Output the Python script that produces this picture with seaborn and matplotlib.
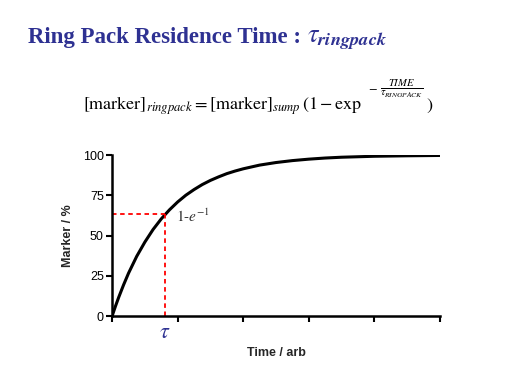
import matplotlib
matplotlib.use("Agg")
import matplotlib.pyplot as plt
import seaborn as sns
import pandas as pd

sns.set_style("white")
plt.rcParams['mathtext.fontset'] = 'stix'

# curve (time in arb units, marker in %)
time = [0, 0.05, 0.1, 0.175, 0.25, 0.375, 0.5, 0.625, 0.75, 0.875, 1.0, 1.125,
        1.25, 1.375, 1.5, 1.625, 1.75, 1.875, 2.0, 2.25, 2.5, 2.75, 3.0,
        3.25, 3.5, 3.75, 4.0, 4.5, 5.0]
marker = [0, 6.0, 11.6, 19.4, 26.6, 37.1, 46.0, 53.8, 60.4, 66.0, 70.9, 75.1,
          78.6, 81.7, 84.3, 86.5, 88.5, 90.1, 91.5, 93.8, 95.4, 96.6, 97.5,
          98.2, 98.7, 99.0, 99.3, 99.6, 99.8]
tau = 0.81
tau_level = 63.2
yticks = [0, 25, 50, 75, 100]
xticks = [0, 1, 2, 3, 4, 5]

df = pd.DataFrame({"time": time, "marker": marker})

fig = plt.figure(figsize=(5.12, 3.84), dpi=100)
ax = fig.add_axes([0.219, 0.177, 0.640, 0.419])

sns.lineplot(data=df, x="time", y="marker", color="black", linewidth=2.2, ax=ax)
ax.plot([0, tau], [tau_level, tau_level], color="red", ls=(0, (2.5, 2)), lw=1.3)
ax.plot([tau, tau], [0, tau_level], color="red", ls=(0, (2.5, 2)), lw=1.3)

ax.set_xlim(0, 5)
ax.set_ylim(0, 100)
ax.set_xticks(xticks)
ax.set_xticklabels([])
ax.set_yticks(yticks)
ax.tick_params(axis="both", direction="out", length=4, width=1.5, colors="black",
               labelsize=9, pad=2, left=True, bottom=True)
for t in ax.get_yticklabels():
    t.set_fontfamily("Liberation Sans")
for s in ["top", "right"]:
    ax.spines[s].set_visible(False)
for s in ["left", "bottom"]:
    ax.spines[s].set_color("black")
    ax.spines[s].set_linewidth(1.8)

ax.set_xlabel("Time / arb", fontsize=9, fontweight="bold", family="Liberation Sans", labelpad=16)
ax.set_ylabel("Marker / %", fontsize=9, fontweight="bold", family="Liberation Sans", labelpad=6)

ax.text(tau + 0.17, tau_level - 1, r"$1\text{-}e^{-1}$", fontsize=11, color="#333333",
        va="center", ha="left")
ax.text(tau, -4, r"$\tau$", fontsize=16, color="#2E3192", ha="center", va="top",
        clip_on=False)

# title
fig.text(0.055, 0.888, "Ring Pack Residence Time : ",
         fontsize=16.5, fontweight="bold", family="Liberation Serif", color="#2E3192",
         ha="left", va="baseline")
fig.text(0.6, 0.888, r"$\tau_{\mathbfit{ringpack}}$",
         fontsize=19, color="#2E3192", ha="left", va="baseline")

# equation
fig.text(0.162, 0.715,
         r"$[\mathrm{marker}]_{\mathit{ringpack}} = [\mathrm{marker}]_{\mathit{sump}}\,(1 - \mathrm{exp}$",
         fontsize=13, color="black", ha="left", va="baseline")
fig.text(0.728, 0.772, r"$-$", fontsize=9, color="black", ha="center", va="center")
fig.text(0.785, 0.768, r"$\frac{\mathit{TIME}}{\tau_{\mathit{RINGPACK}}}$",
         fontsize=11, color="black", ha="center", va="center")
fig.text(0.84, 0.715, r"$)$", fontsize=13, color="black", ha="center", va="baseline")

fig.savefig("out.png", dpi=100)
